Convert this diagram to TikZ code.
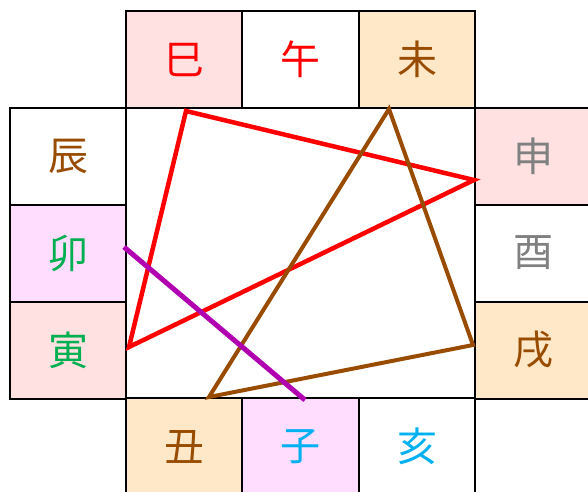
\documentclass[tikz,border=0pt]{standalone}
\usepackage{fontspec}
\newfontfamily\cjk{Noto Sans CJK JP}
\definecolor{pinkbg}{RGB}{255,225,225}
\definecolor{orangebg}{RGB}{255,232,200}
\definecolor{violetbg}{RGB}{255,221,255}
\definecolor{brownc}{RGB}{153,76,0}
\definecolor{greenc}{RGB}{0,176,80}
\definecolor{cyanc}{RGB}{0,176,240}
\definecolor{purplec}{RGB}{176,0,176}
\definecolor{grayc}{RGB}{128,128,128}
\tikzset{cell/.style={draw,line width=2pt,minimum width=116.5pt,minimum height=97pt,
  inner sep=0pt,outer sep=0pt,font=\cjk\fontsize{40}{40}\selectfont}}
\begin{document}
\begin{tikzpicture}[x=1pt,y=-1pt]
\useasboundingbox (0,0) rectangle (588,491);
\clip (0,0) rectangle (588,491);

% top row
\node[cell,fill=pinkbg,text=red] (si) at (184,59.5) {巳};
\node[cell,text=red] (wu) at (300.5,59.5) {午};
\node[cell,fill=orangebg,text=brownc] (wei) at (417,59.5) {未};
% right column
\node[cell,fill=pinkbg,text=grayc] (shen) at (533,156) {申};
\node[cell,text=grayc] (you) at (533,253) {酉};
\node[cell,fill=orangebg,text=brownc] (xu) at (533,350) {戌};
% bottom row
\node[cell,text=cyanc] (hai) at (417,446.5) {亥};
\node[cell,fill=violetbg,text=cyanc] (zi) at (300.5,446.5) {子};
\node[cell,fill=orangebg,text=brownc] (chou) at (184,446.5) {丑};
% left column
\node[cell,fill=pinkbg,text=greenc] (yin) at (68,350) {寅};
\node[cell,fill=violetbg,text=greenc] (mao) at (68,253) {卯};
\node[cell,text=brownc] (chen) at (68,156) {辰};

% end points of the lines
\coordinate (siP) at (186,111);
\coordinate (shenP) at (474,180);
\coordinate (yinP) at (129,347);
\coordinate (weiP) at (389,109);
\coordinate (xuP) at (473,345);
\coordinate (chouP) at (209,397);
\coordinate (maoP) at (124,247);
\coordinate (ziP) at (305,400);

\draw [red,line width=4.5pt] (siP)--(shenP)--(yinP)--cycle;
\draw [brownc,line width=4pt] (weiP)--(xuP)--(chouP)--cycle;
\draw [purplec,line width=5pt] (maoP)--(ziP);

\end{tikzpicture}
\end{document}
